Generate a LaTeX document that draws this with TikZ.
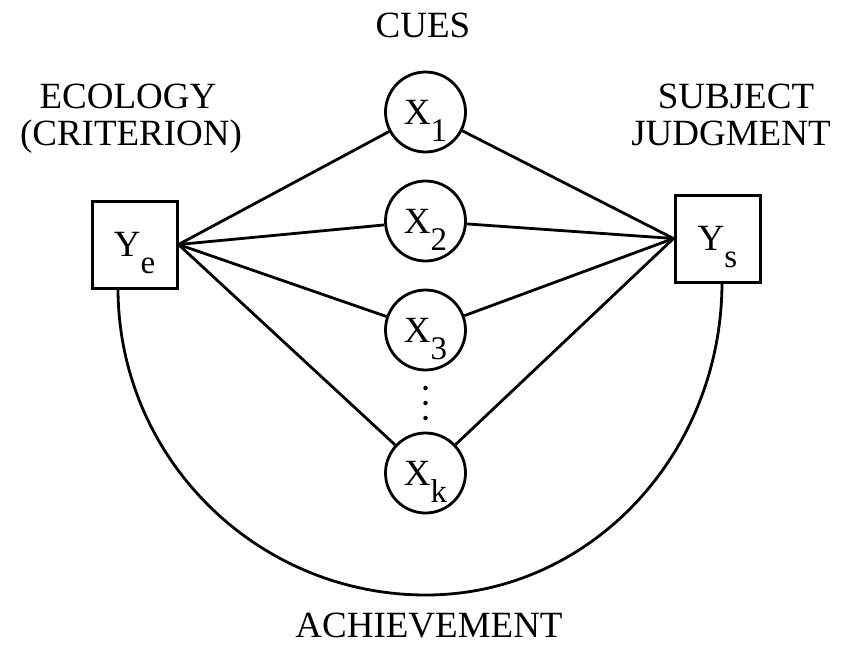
\documentclass[tikz,border=0pt]{standalone}
\usepackage{fontspec}
\setmainfont{Liberation Serif}
\newcommand\lensub[1]{\raisebox{-17pt}[0pt][0pt]{\fontsize{33}{33}\selectfont #1}}
\begin{document}
\begin{tikzpicture}[x=1pt,y=-1pt,
  every node/.style={font=\fontsize{37}{40}\selectfont},
  cue/.style={draw,circle,line width=2.8pt,minimum size=80pt,inner sep=0pt},
  varbox/.style={draw,rectangle,line width=3pt,minimum width=85pt,minimum height=87pt,inner sep=0pt},
  link/.style={line width=2.8pt},
  lbl/.style={anchor=base,inner sep=0pt},
  dot/.style={circle,fill,inner sep=0pt,minimum size=4.5pt}]
\useasboundingbox (0,0) rectangle (841,645);
\node[varbox] (ye) at (134.5,244.5) {\raisebox{-3pt}{Y\lensub{e}}};
\node[varbox] (ys) at (717.5,238.5) {\raisebox{-3pt}{Y\lensub{s}}};
\node[cue] (x1) at (425.5,112) {X\lensub{1}};
\node[cue] (x2) at (425.5,221) {X\lensub{2}};
\node[cue] (x3) at (425.5,330) {X\lensub{3}};
\node[cue] (xk) at (425.5,473) {X\lensub{k}};
\node[dot] (d1) at (425.5,388) {};
\node[dot] (d2) at (425.5,403) {};
\node[dot] (d3) at (425.5,418) {};
\foreach \c in {x1,x2,x3,xk}{
  \draw[link] (ye.east) -- (\c);
  \draw[link] (\c) -- (ys.west);
}
\coordinate (al) at (118,288);
\coordinate (ab) at (426,595);
\coordinate (ar) at (722,282);
\draw[link] (al) arc[start angle=180,end angle=90,x radius=308,y radius=307]
  arc[start angle=90,end angle=0,x radius=296,y radius=313];
\node[lbl] (cues) at (423,37) {CUES};
\node[lbl] (eco1) at (128,108) {ECOLOGY};
\node[lbl] (eco2) at (131,145) {(CRITERION)};
\node[lbl] (sub1) at (736,108) {SUBJECT};
\node[lbl] (sub2) at (731,145) {JUDGMENT};
\node[lbl] (ach) at (429,637) {ACHIEVEMENT};
\end{tikzpicture}
\end{document}
